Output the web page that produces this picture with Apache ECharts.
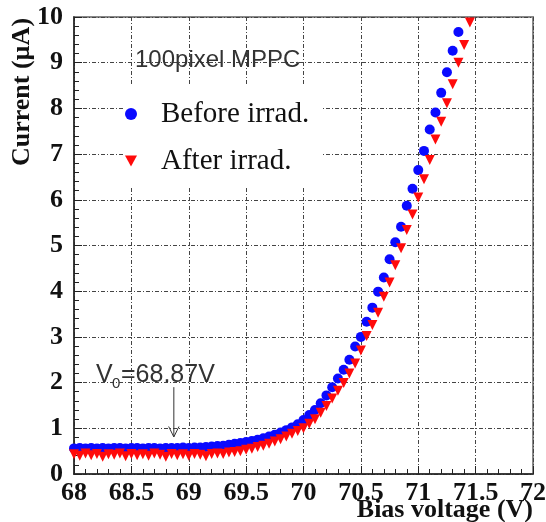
<!DOCTYPE html>
<html>
<head>
<meta charset="utf-8">
<script src="https://cdn.jsdelivr.net/npm/echarts@6/dist/echarts.min.js"></script>
<style>html,body{margin:0;padding:0;background:#fff}#c{width:546px;height:522px}</style>
</head>
<body>
<div id="c"></div>
<script>
// ---- data ----
const beforeV = [68.00,68.05,68.10,68.15,68.20,68.25,68.30,68.35,68.40,68.45,68.50,68.55,68.60,68.65,68.70,68.75,68.80,68.85,68.90,68.95,
  69.00,69.05,69.10,69.15,69.20,69.25,69.30,69.35,69.40,69.45,69.50,69.55,69.60,69.65,69.70,69.75,69.80,69.85,69.90,69.95,
  70.00,70.05,70.10,70.15,70.20,70.25,70.30,70.35,70.40,70.45,70.50,70.55,70.60,70.65,70.70,70.75,70.80,70.85,70.90,70.95,
  71.00,71.05,71.10,71.15,71.20,71.25,71.30,71.35];
const beforeI = [0.56,0.57,0.56,0.57,0.56,0.57,0.56,0.57,0.57,0.56,0.57,0.57,0.56,0.57,0.57,0.56,0.57,0.57,0.57,0.58,
  0.57,0.58,0.58,0.59,0.60,0.61,0.62,0.64,0.66,0.68,0.70,0.72,0.75,0.78,0.82,0.86,0.91,0.96,1.02,1.09,
  1.18,1.29,1.40,1.55,1.72,1.90,2.09,2.28,2.50,2.79,3.00,3.33,3.64,3.99,4.30,4.70,5.07,5.41,5.87,6.24,
  6.65,7.07,7.54,7.91,8.34,8.79,9.26,9.67];
const afterV = [68.00,68.05,68.10,68.15,68.20,68.25,68.30,68.35,68.40,68.45,68.50,68.55,68.60,68.65,68.70,68.75,68.80,68.85,68.90,68.95,
  69.00,69.05,69.10,69.15,69.20,69.25,69.30,69.35,69.40,69.45,69.50,69.55,69.60,69.65,69.70,69.75,69.80,69.85,69.90,69.95,
  70.00,70.05,70.10,70.15,70.20,70.25,70.30,70.35,70.40,70.45,70.50,70.55,70.60,70.65,70.70,70.75,70.80,70.85,70.90,70.95,
  71.00,71.05,71.10,71.15,71.20,71.25,71.30,71.35,71.40,71.45];
const afterI = [0.43,0.40,0.45,0.41,0.44,0.38,0.43,0.42,0.45,0.39,0.44,0.41,0.43,0.40,0.45,0.42,0.38,0.44,0.41,0.43,
  0.40,0.44,0.42,0.39,0.44,0.45,0.44,0.47,0.48,0.50,0.53,0.55,0.59,0.62,0.66,0.71,0.76,0.82,0.88,0.94,
  1.00,1.10,1.20,1.34,1.49,1.65,1.82,1.99,2.20,2.42,2.70,3.02,3.26,3.53,3.88,4.19,4.57,4.94,5.34,5.68,
  6.05,6.45,6.87,7.32,7.71,8.11,8.53,9.00,9.39,9.88];
const seriesNames = ['Before irrad.', 'After irrad.'];
const V0 = 68.87;
const v0Label = '=68.87V';
const panelLabel = '100pixel MPPC';
const xTitle = 'Bias voltage (V)';
const yTitle = 'Current (\u00b5A)';

const serif = '"Liberation Serif","Times New Roman",serif';
const sans = '"Liberation Sans",Arial,sans-serif';
const pairs = (xs, ys) => xs.map((x, i) => [x, ys[i]]);
const downTri = 'path://M0,0 L10,0 L5,9 Z';

const chart = echarts.init(document.getElementById('c'), null, {renderer: 'canvas'});
chart.setOption({
  animation: false,
  backgroundColor: '#fff',
  grid: {left: 74, right: 13, top: 17, bottom: 48, outerBoundsMode: 'none', containLabel: false,
         show: true, borderColor: '#888', borderWidth: 2, backgroundColor: 'transparent'},
  xAxis: {
    type: 'value', min: 68, max: 72, interval: 0.5,
    axisLine: {show: true, lineStyle: {color: '#222', width: 1.5}},
    axisTick: {show: true, inside: true, length: 8, lineStyle: {color: '#222'}},
    minorTick: {show: true, splitNumber: 5, length: 5, lineStyle: {color: '#222'}},
    axisLabel: {fontFamily: serif, fontWeight: 'bold', fontSize: 26, color: '#111', margin: 6, showMinLabel: true, showMaxLabel: true, hideOverlap: false},
    splitLine: {show: true, lineStyle: {color: '#444', width: 1, type: [4, 2, 1, 2]}}
  },
  yAxis: {
    type: 'value', min: 0, max: 10, interval: 1,
    axisLine: {show: true, lineStyle: {color: '#222', width: 1.5}},
    axisTick: {show: true, inside: true, length: 8, lineStyle: {color: '#222'}},
    minorTick: {show: true, splitNumber: 5, length: 5, lineStyle: {color: '#222'}},
    axisLabel: {fontFamily: serif, fontWeight: 'bold', fontSize: 26, color: '#111', margin: 11},
    splitLine: {show: true, lineStyle: {color: '#444', width: 1, type: [4, 2, 1, 2]}}
  },
  legend: {
    orient: 'vertical', left: 125, top: 86, padding: [13, 12, 10, 0],
    backgroundColor: '#fff', itemGap: 17, itemWidth: 12, itemHeight: 12,
    data: [{name: seriesNames[0], icon: 'circle'}, {name: seriesNames[1], icon: downTri}],
    textStyle: {fontFamily: serif, fontSize: 29, color: '#111', lineHeight: 30, padding: [0, 0, 0, 19]}
  },
  graphic: [
    {type: 'text', x: 135, y: 60, z: 10, style: {text: panelLabel, font: '24px ' + sans, fill: '#333', verticalAlign: 'middle', align: 'left'}},
    {type: 'text', x: 96, y: 375, z: 10, style: {text: 'V', font: '25px ' + sans, fill: '#333', verticalAlign: 'middle', align: 'left'}},
    {type: 'text', x: 112, y: 384, z: 10, style: {text: '0', font: '15px ' + sans, fill: '#333', verticalAlign: 'middle', align: 'left'}},
    {type: 'text', x: 121, y: 375, z: 10, style: {text: v0Label, font: '25px ' + sans, fill: '#333', verticalAlign: 'middle', align: 'left'}},
    {type: 'text', x: 22, y: 92, rotation: Math.PI / 2, z: 10, style: {text: yTitle, font: 'bold 26px ' + serif, fill: '#111', verticalAlign: 'middle', align: 'center'}},
    {type: 'text', x: 533, y: 510, z: 10, style: {text: xTitle, font: 'bold 26px ' + serif, fill: '#111', verticalAlign: 'middle', align: 'right'}}
  ],
  series: [
    {name: seriesNames[0], type: 'scatter', symbol: 'circle', symbolSize: 10, itemStyle: {color: '#0a0aff', opacity: 1}, data: pairs(beforeV, beforeI), z: 3},
    {name: seriesNames[1], type: 'scatter', symbol: 'triangle', symbolRotate: 180, symbolSize: 10, itemStyle: {color: '#ff0a0a', opacity: 1}, data: pairs(afterV, afterI), z: 4},
    {type: 'line', silent: true, symbol: 'none', lineStyle: {color: '#333', width: 1}, data: [[V0, 1.9], [V0, 0.82]], z: 5},
    {type: 'line', silent: true, symbol: 'none', lineStyle: {color: '#333', width: 1}, data: [[V0 - 0.045, 1.04], [V0, 0.81], [V0 + 0.045, 1.04]], z: 5}
  ]
});
</script>
</body>
</html>
